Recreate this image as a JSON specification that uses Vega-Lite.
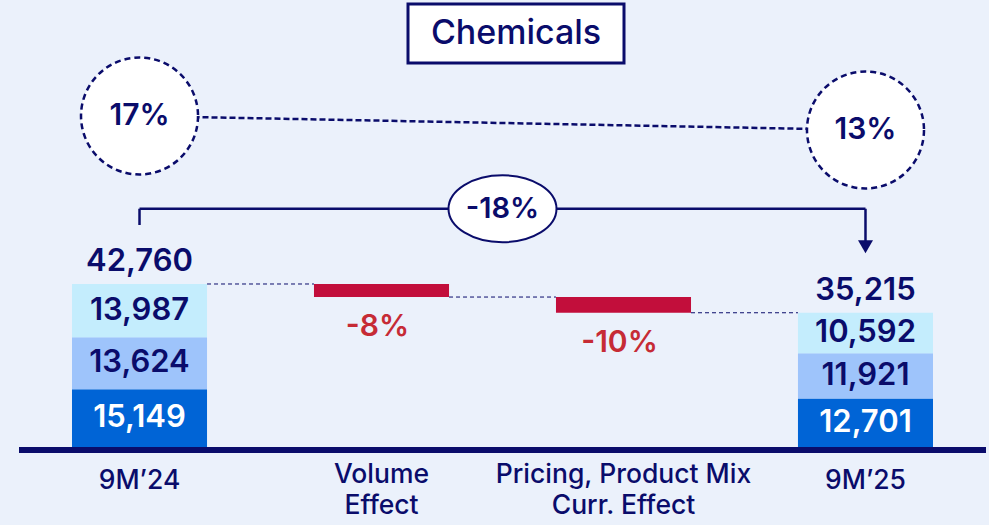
{
  "$schema": "https://vega.github.io/schema/vega-lite/v6.json",
  "autosize": {"type": "none"},
  "width": 967,
  "height": 447,
  "padding": {"left": 19, "right": 3, "top": 0, "bottom": 78},
  "background": "#ebf1fb",
  "config": {
    "view": {"stroke": null},
    "font": "Inter",
    "text": {"font": "Inter", "fontWeight": 500},
    "axisX": {"domain": false, "ticks": false, "grid": false, "labelFont": "Inter", "labelFontSize": 26.5, "labelFontWeight": 500, "labelColor": "#0a0c6b", "labelBaseline": "top", "labelLineHeight": 31, "labelAngle": 0, "labelLimit": 0}
  },
  "datasets": {
    "bars": [
      {"cat": "9M’24", "part": "Part 1", "start": 0, "end": 15149, "label": "15,149"},
      {"cat": "9M’24", "part": "Part 2", "start": 15149, "end": 28773, "label": "13,624"},
      {"cat": "9M’24", "part": "Part 3", "start": 28773, "end": 42760, "label": "13,987"},
      {"cat": "Volume Effect", "part": "Change", "start": 39340, "end": 42760, "label": "-8%"},
      {"cat": "Pricing, Product Mix Curr. Effect", "part": "Change", "start": 35215, "end": 39340, "label": "-10%"},
      {"cat": "9M’25", "part": "Part 1", "start": 0, "end": 12701, "label": "12,701"},
      {"cat": "9M’25", "part": "Part 2", "start": 12701, "end": 24622, "label": "11,921"},
      {"cat": "9M’25", "part": "Part 3", "start": 24622, "end": 35215, "label": "10,592"}
    ],
    "totals": [
      {"cat": "9M’24", "total": 42760, "label": "42,760"},
      {"cat": "9M’25", "total": 35215, "label": "35,215"}
    ],
    "connectors": [
      {"from": "9M’24", "to": "Volume Effect", "level": 42760},
      {"from": "Volume Effect", "to": "Pricing, Product Mix Curr. Effect", "level": 39340},
      {"from": "Pricing, Product Mix Curr. Effect", "to": "9M’25", "level": 35215}
    ],
    "margins": [
      {"cat": "9M’24", "value": 86830, "label": "17%"},
      {"cat": "9M’25", "value": 83160, "label": "13%"}
    ],
    "bracket": [
      {"from": "9M’24", "to": "9M’24", "top": 62500, "bottom": 58240},
      {"from": "9M’24", "to": "9M’25", "top": 62500, "bottom": 62500},
      {"from": "9M’25", "to": "9M’25", "top": 62500, "bottom": 54000}
    ],
    "arrow": [{"cat": "9M’25", "value": 52500}],
    "change": [{"label": "-18%", "value": 62500}],
    "heading": [{"label": "Chemicals", "value": 108470}]
  },
  "layer": [
    {
      "data": {"name": "margins"},
      "mark": {"type": "line", "stroke": "#0a0c6b", "strokeWidth": 2.5, "strokeDash": [6, 3]},
      "encoding": {
        "x": {"field": "cat", "type": "nominal", "title": null,
          "scale": {"domain": ["9M’24", "Volume Effect", "Pricing, Product Mix Curr. Effect", "9M’25"], "paddingInner": 0.442, "paddingOuter": 0.219},
          "axis": {"labelExpr": "datum.value == 'Volume Effect' ? ['Volume', 'Effect'] : datum.value == 'Pricing, Product Mix Curr. Effect' ? ['Pricing, Product Mix', 'Curr. Effect'] : datum.label",
            "labelPadding": {"condition": {"test": "datum.value == 'Volume Effect' || datum.value == 'Pricing, Product Mix Curr. Effect'", "value": 14}, "value": 20}}},
        "y": {"field": "value", "type": "quantitative", "axis": null, "scale": {"domain": [0, 117260], "nice": false, "zero": true}}
      }
    },
    {
      "data": {"name": "margins"},
      "mark": {"type": "point", "shape": "circle", "size": 13689, "filled": true, "fill": "#ffffff", "stroke": "#0a0c6b", "strokeWidth": 2.5, "strokeDash": [6, 4], "opacity": 1},
      "encoding": {
        "x": {"field": "cat", "type": "nominal", "title": null},
        "y": {"field": "value", "type": "quantitative", "axis": null}
      }
    },
    {
      "data": {"name": "margins"},
      "mark": {"type": "text", "fontSize": 30, "fontWeight": 600, "color": "#0a0c6b", "baseline": "middle", "align": "center"},
      "encoding": {
        "x": {"field": "cat", "type": "nominal", "title": null},
        "y": {"field": "value", "type": "quantitative", "axis": null},
        "text": {"field": "label"}
      }
    },
    {
      "data": {"name": "bracket"},
      "mark": {"type": "rule", "stroke": "#0a0c6b", "strokeWidth": 2.5},
      "encoding": {
        "x": {"field": "from", "type": "nominal", "title": null, "bandPosition": 0.5},
        "x2": {"field": "to", "bandPosition": 0.5},
        "y": {"field": "top", "type": "quantitative", "axis": null},
        "y2": {"field": "bottom"}
      }
    },
    {
      "data": {"name": "arrow"},
      "mark": {"type": "point", "shape": "triangle-down", "size": 225, "filled": true, "color": "#0a0c6b", "opacity": 1},
      "encoding": {
        "x": {"field": "cat", "type": "nominal", "title": null},
        "y": {"field": "value", "type": "quantitative", "axis": null}
      }
    },
    {
      "data": {"name": "change"},
      "mark": {"type": "point", "shape": "M-1,0A1,0.62,0,1,0,1,0A1,0.62,0,1,0,-1,0Z", "size": 11664, "filled": true, "fill": "#ffffff", "stroke": "#0a0c6b", "strokeWidth": 2, "opacity": 1},
      "encoding": {
        "y": {"field": "value", "type": "quantitative", "axis": null}
      }
    },
    {
      "data": {"name": "change"},
      "mark": {"type": "text", "fontSize": 29, "fontWeight": 600, "color": "#0a0c6b", "baseline": "middle", "align": "center"},
      "encoding": {
        "y": {"field": "value", "type": "quantitative", "axis": null},
        "text": {"field": "label"}
      }
    },
    {
      "data": {"name": "heading"},
      "mark": {"type": "point", "shape": "M-1,-0.273H1V0.273H-1Z", "size": 46656, "filled": true, "fill": "#ffffff", "stroke": "#0a0c6b", "strokeWidth": 3, "opacity": 1, "xOffset": 13.5},
      "encoding": {
        "y": {"field": "value", "type": "quantitative", "axis": null}
      }
    },
    {
      "data": {"name": "heading"},
      "mark": {"type": "text", "fontSize": 34, "color": "#0a0c6b", "baseline": "middle", "align": "center", "xOffset": 13.5},
      "encoding": {
        "y": {"field": "value", "type": "quantitative", "axis": null},
        "text": {"field": "label"}
      }
    },
    {
      "data": {"name": "bars"},
      "mark": {"type": "bar"},
      "encoding": {
        "x": {"field": "cat", "type": "nominal", "title": null},
        "y": {"field": "start", "type": "quantitative", "axis": null},
        "y2": {"field": "end"},
        "color": {"field": "part", "type": "nominal", "legend": null,
          "scale": {"domain": ["Part 1", "Part 2", "Part 3", "Change"], "range": ["#0064d6", "#9ec4fb", "#c4edfd", "#c20e3b"]}}
      }
    },
    {
      "data": {"name": "connectors"},
      "mark": {"type": "rule", "stroke": "#0a0c6b", "strokeWidth": 1, "strokeDash": [4, 3]},
      "encoding": {
        "x": {"field": "from", "type": "nominal", "title": null, "bandPosition": 1},
        "x2": {"field": "to", "bandPosition": 0},
        "y": {"field": "level", "type": "quantitative", "axis": null}
      }
    },
    {
      "data": {"name": "bars"},
      "transform": [
        {"filter": "datum.part != 'Change'"},
        {"calculate": "(datum.start + datum.end) / 2", "as": "mid"}
      ],
      "mark": {"type": "text", "fontSize": 31, "fontWeight": 600, "baseline": "middle", "align": "center"},
      "encoding": {
        "x": {"field": "cat", "type": "nominal", "title": null},
        "y": {"field": "mid", "type": "quantitative", "axis": null},
        "text": {"field": "label"},
        "color": {"condition": {"test": "datum.part == 'Part 1'", "value": "#ffffff"}, "value": "#0a0c6b"}
      }
    },
    {
      "data": {"name": "bars"},
      "transform": [{"filter": "datum.part == 'Change'"}],
      "mark": {"type": "text", "fontSize": 30, "fontWeight": 600, "baseline": "middle", "align": "center", "dy": 30, "dx": -4, "color": "#c62b35"},
      "encoding": {
        "x": {"field": "cat", "type": "nominal", "title": null},
        "y": {"field": "start", "type": "quantitative", "axis": null},
        "text": {"field": "label"}
      }
    },
    {
      "data": {"name": "totals"},
      "mark": {"type": "text", "fontSize": 31, "fontWeight": 600, "baseline": "middle", "align": "center", "dy": -22, "color": "#0a0c6b"},
      "encoding": {
        "x": {"field": "cat", "type": "nominal", "title": null},
        "y": {"field": "total", "type": "quantitative", "axis": null},
        "text": {"field": "label"}
      }
    },
    {
      "data": {"values": [{"base": 0}]},
      "mark": {"type": "rule", "stroke": "#0a0c6b", "strokeWidth": 6, "yOffset": 3},
      "encoding": {
        "y": {"field": "base", "type": "quantitative", "axis": null}
      }
    }
  ]
}
